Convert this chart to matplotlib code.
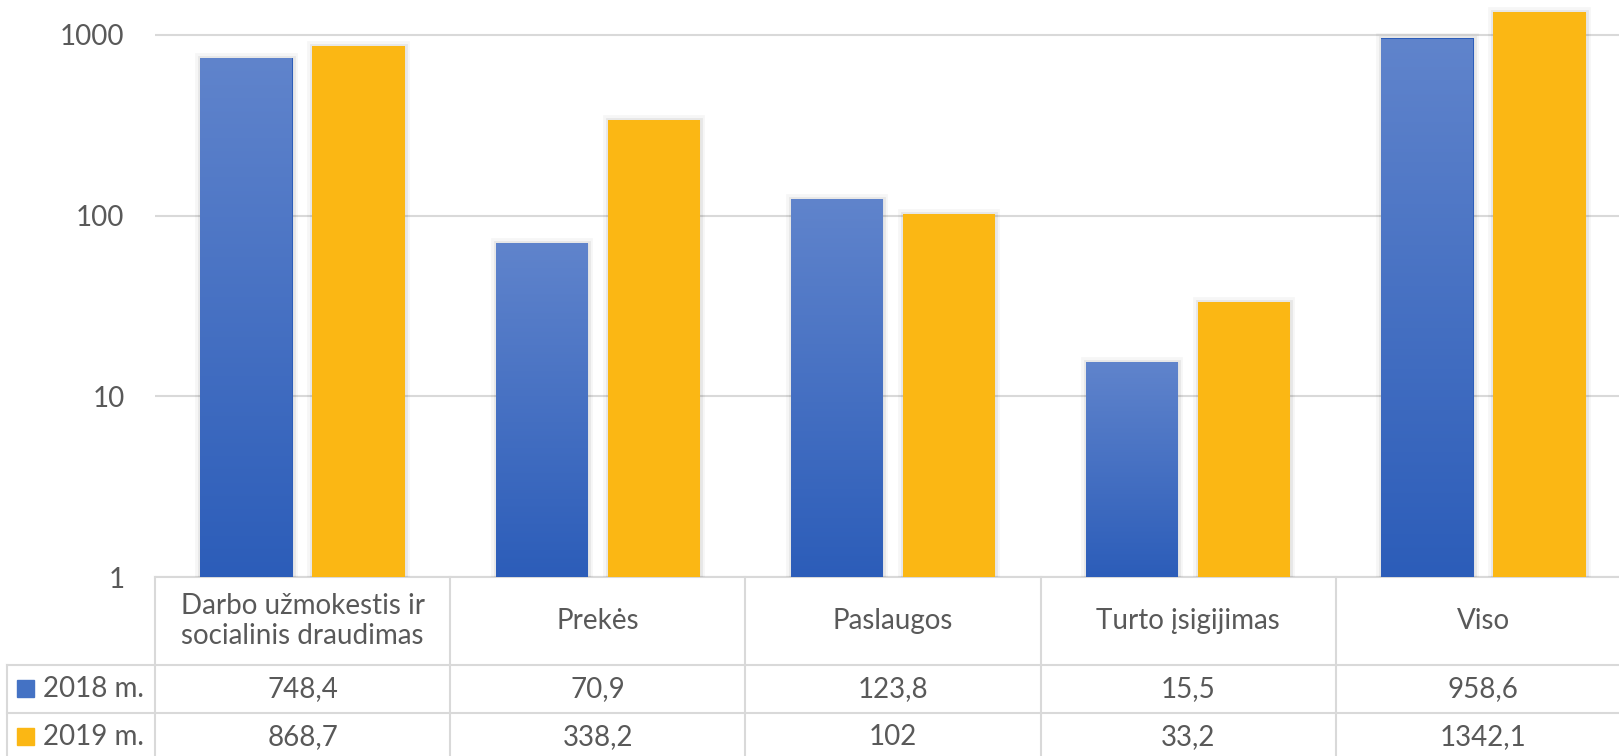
import numpy as np
import matplotlib
matplotlib.use("Agg")
import matplotlib.pyplot as plt
import matplotlib.patheffects as pe
from matplotlib.colors import LinearSegmentedColormap
from matplotlib.transforms import blended_transform_factory

plt.rcParams['font.family'] = ['Lato', 'DejaVu Sans']

#data
categories = ["Darbo užmokestis ir\nsocialinis draudimas", "Prekės", "Paslaugos",
              "Turto įsigijimas", "Viso"]
series_names = ["2018 m.", "2019 m."]
values_2018 = [748.4, 70.9, 123.8, 15.5, 958.6]
values_2019 = [868.7, 338.2, 102, 33.2, 1342.1]
labels_2018 = ["748,4", "70,9", "123,8", "15,5", "958,6"]
labels_2019 = ["868,7", "338,2", "102", "33,2", "1342,1"]
yticks = [1, 10, 100, 1000]

#style
W, H = 1619, 756
txt = "#595959"
grid = "#D9D9D9"
blue_top = "#6084CC"
blue_bot = "#2C5DB9"
orange = "#FBB714"
fs = 20

fig = plt.figure(figsize=(W / 100, H / 100), dpi=100)
# pixel helpers for the table region
def fx(px):
    return px / W
def fy(py):
    return 1 - py / H

ax = fig.add_axes([fx(155), fy(577), fx(1631) - fx(155), fy(0) - fy(577)])
ax.set_yscale("log")
ax.set_ylim(1, 1560)
ax.set_xlim(-0.5, len(categories) - 0.5)

x = np.arange(len(categories))
bw = 0.313
off = 0.19
shadow = [pe.Stroke(linewidth=7, foreground="black", alpha=0.035),
          pe.Stroke(linewidth=3.5, foreground="black", alpha=0.06),
          pe.Normal()]
bars1 = ax.bar(x - off, values_2018, bw, color=blue_bot, zorder=3, path_effects=shadow)
bars2 = ax.bar(x + off, values_2019, bw, color=orange, zorder=3, path_effects=shadow)

# gradient fill for the blue bars
cmap = LinearSegmentedColormap.from_list("bl", [blue_bot, blue_top])
grad = np.linspace(0, 1, 256).reshape(-1, 1)
bt = blended_transform_factory(ax.transData, ax.transAxes)
for b in bars1:
    top = ax.transAxes.inverted().transform(ax.transData.transform((0, b.get_height())))[1]
    im = ax.imshow(grad, aspect="auto", cmap=cmap, origin="lower",
                   extent=(b.get_x(), b.get_x() + b.get_width(), 0, top),
                   transform=bt, zorder=4)
    im.set_clip_path(b)

ax.set_yticks(yticks)
ax.set_yticklabels([str(t) for t in yticks])
ax.minorticks_off()
ax.tick_params(axis="y", length=0, pad=22, labelsize=fs, labelcolor=txt)
ax.set_xticks([])
ax.grid(axis="y", color=grid, linewidth=1.5, zorder=0)
for s in ["top", "right", "left"]:
    ax.spines[s].set_visible(False)
ax.spines["bottom"].set_color(grid)
ax.spines["bottom"].set_linewidth(1.5)
ax.set_xlim(-0.5, len(categories) - 0.5)

# data table below the axes
xt = blended_transform_factory(ax.transData, fig.transFigure)
for i in range(len(categories) + 1):
    ax.plot([i - 0.5, i - 0.5], [fy(577), fy(760)], color=grid, lw=1.5,
            transform=xt, clip_on=False)
for py in [665, 713, 760]:
    fig.add_artist(plt.Line2D([fx(7), 1], [fy(py), fy(py)], color=grid, lw=1.5))
fig.add_artist(plt.Line2D([fx(7), fx(7)], [fy(665), fy(760)], color=grid, lw=1.5))

for i, c in enumerate(categories):
    ax.text(i, fy(621), c, transform=xt, ha="center", va="center", fontsize=fs,
            color=txt, linespacing=1.15)
    ax.text(i, fy(689), labels_2018[i], transform=xt, ha="center", va="center",
            fontsize=fs, color=txt)
    ax.text(i, fy(737), labels_2019[i], transform=xt, ha="center", va="center",
            fontsize=fs, color=txt)

for name, col, py in zip(series_names, ["#4472C4", orange], [689, 737]):
    fig.add_artist(plt.Rectangle((fx(17), fy(py + 8)), fx(17), fy(0) - fy(17),
                                 color=col))
    fig.text(fx(43), fy(py), name, ha="left", va="center", fontsize=fs, color=txt)

fig.savefig("out.png", dpi=100)
